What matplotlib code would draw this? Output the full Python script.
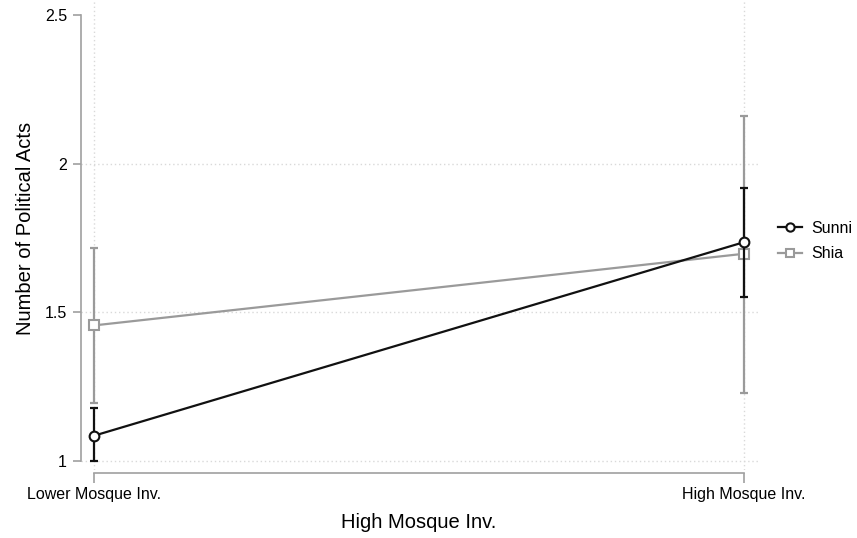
import matplotlib.pyplot as plt

plt.rcParams['font.family'] = ['Liberation Sans', 'DejaVu Sans']

# Predicted number of political acts by mosque involvement
categories = ['Lower Mosque Inv.', 'High Mosque Inv.']
sunni_mean = [1.085, 1.736]
sunni_lo = [1.000, 1.551]
sunni_hi = [1.178, 1.919]
shia_mean = [1.456, 1.697]
shia_lo = [1.196, 1.228]
shia_hi = [1.716, 2.162]
yticks = [1, 1.5, 2, 2.5]
yticklabels = ['1', '1.5', '2', '2.5']

W, H = 857, 538
fig = plt.figure(figsize=(W / 100, H / 100), dpi=100)
ax = fig.add_axes([81 / W, 1 - 470 / H, (758 - 81) / W, 470 / H])

xs = list(range(len(categories)))
grid_c = '#d9d9d9'
for y in [1, 1.5, 2]:
    ax.axhline(y, color=grid_c, lw=1, ls=(0, (1, 2)), zorder=0)
for x in xs:
    ax.axvline(x, color=grid_c, lw=1, ls=(0, (1, 2)), zorder=0)

def draw(mean, lo, hi, color, marker, label, z):
    yerr = [[m - l for m, l in zip(mean, lo)], [h - m for m, h in zip(mean, hi)]]
    ax.errorbar(xs, mean, yerr=yerr, fmt='none', ecolor=color, elinewidth=1.6,
                capsize=3, capthick=1.6, zorder=z)
    ax.plot(xs, mean, color=color, lw=1.6, marker=marker, ms=7, mfc='white',
            mec=color, mew=1.5, label=label, zorder=z + 1)

draw(shia_mean, shia_lo, shia_hi, '#9a9a9a', 's', 'Shia', 3)
draw(sunni_mean, sunni_lo, sunni_hi, '#111111', 'o', 'Sunni', 5)

ax.set_xlim(-13 / 650, 1 + 14 / 650)
ax.set_ylim(1 - 9 / 297, 2.5 + 15 / 297)

for s in ['top', 'right']:
    ax.spines[s].set_visible(False)
ax.spines['left'].set_bounds(1, 2.5)
ax.spines['bottom'].set_bounds(0, 1)
ax.spines['bottom'].set_position(('outward', 2.2))
for s in ['left', 'bottom']:
    ax.spines[s].set_color('#a0a0a0')
    ax.spines[s].set_linewidth(1.2)

ax.set_yticks(yticks)
ax.set_yticklabels(yticklabels)
ax.set_xticks(xs)
ax.set_xticklabels(categories)
ax.tick_params(axis='y', length=6, width=1.2, color='#a0a0a0', labelsize=11.5, pad=4)
ax.tick_params(axis='x', length=7, width=1.2, color='#a0a0a0', labelsize=11.5, pad=3)

fig.text(419 / W, 1 - 523 / H, 'High Mosque Inv.', fontsize=14.5, ha='center', va='center')
fig.text(26 / W, 1 - 228 / H, 'Number of Political Acts', fontsize=14.5, rotation=90,
         ha='center', va='center')

handles, labels = ax.get_legend_handles_labels()
ax.legend(handles[::-1], labels[::-1], loc='center left', bbox_to_anchor=(1.008, 0.487),
          frameon=False, fontsize=11.5, handlelength=1.5, handletextpad=0.6,
          labelspacing=0.65, markerscale=0.85)

fig.savefig('out.png', dpi=100)
